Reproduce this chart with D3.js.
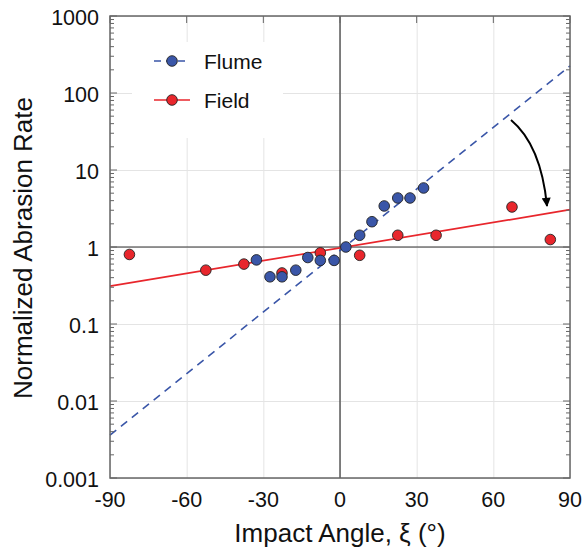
<!DOCTYPE html>
<html>
<head>
<meta charset="utf-8">
<script src="https://cdn.jsdelivr.net/npm/d3@7"></script>
<style>
  body { margin: 0; background: #fff; }
  text { font-family: Arial, "Liberation Sans", sans-serif; fill: #111; }
</style>
</head>
<body>
<svg id="chart" width="585" height="550"></svg>
<script>
// --- Data ---
const flumeAngle = [-32.7, -27.4, -22.7, -17.3, -12.6, -7.7, -2.3, 2.3, 7.7, 12.5, 17.3, 22.6, 27.4, 32.7];
const flumeRate  = [0.68, 0.41, 0.41, 0.50, 0.73, 0.67, 0.67, 1.0, 1.42, 2.13, 3.41, 4.33, 4.33, 5.84];
const fieldAngle = [-82.4, -52.5, -37.6, -22.7, -7.7, 7.7, 22.6, 37.6, 67.3, 82.3];
const fieldRate  = [0.80, 0.50, 0.60, 0.46, 0.84, 0.78, 1.42, 1.42, 3.31, 1.25];
// fitted trend lines (end points)
const fitAngle = [-90, 90];
const flumeFit = [0.0036, 225];
const fieldFit = [0.31, 3.05];
const xTicks = [-90, -60, -30, 0, 30, 60, 90];
const yTicks = [0.001, 0.01, 0.1, 1, 10, 100, 1000];

const svg = d3.select("#chart");
const margin = { top: 16, right: 15, bottom: 72, left: 110 };
const innerWidth = 585 - margin.left - margin.right;
const innerHeight = 550 - margin.top - margin.bottom;
const g = svg.append("g").attr("transform", `translate(${margin.left},${margin.top})`);

// --- Scales ---
const x = d3.scaleLinear().domain([-90, 90]).range([0, innerWidth]);
const y = d3.scaleLog().domain([0.001, 1000]).range([innerHeight, 0]);

const blue = "#3a56a8", red = "#e8262c";

// --- Gridlines ---
g.append("g")
  .call(d3.axisBottom(x).tickValues(xTicks).tickSize(innerHeight).tickFormat(""))
  .call(a => a.select(".domain").remove())
  .call(a => a.selectAll("text").remove())
  .selectAll("line").attr("stroke", "#e4e4e4");
g.append("g")
  .call(d3.axisLeft(y).tickValues(yTicks).tickSize(-innerWidth).tickFormat(""))
  .call(a => a.select(".domain").remove())
  .call(a => a.selectAll("text").remove())
  .selectAll("line").attr("stroke", "#e4e4e4");

// --- Zero lines ---
g.append("line").attr("x1", x(0)).attr("x2", x(0)).attr("y1", 0).attr("y2", innerHeight)
  .attr("stroke", "#333").attr("stroke-width", 1.2);
g.append("line").attr("x1", 0).attr("x2", innerWidth).attr("y1", y(1)).attr("y2", y(1))
  .attr("stroke", "#333").attr("stroke-width", 1.2);

// --- Legend box (white, covers grid) ---
g.append("rect").attr("x", 22).attr("y", 26).attr("width", 151).attr("height", 96).attr("fill", "#fff");

// --- Fit lines ---
const fitLine = vals => d3.line().x((d, i) => x(fitAngle[i])).y((d, i) => y(vals[i]))(vals);
g.append("path").attr("d", fitLine(fieldFit)).attr("fill", "none")
  .attr("stroke", red).attr("stroke-width", 1.7);
g.append("path").attr("d", fitLine(flumeFit)).attr("fill", "none")
  .attr("stroke", blue).attr("stroke-width", 1.6).attr("stroke-dasharray", "8,6");

// --- Points ---
g.selectAll(".field").data(fieldAngle).join("circle")
  .attr("cx", d => x(d)).attr("cy", (d, i) => y(fieldRate[i])).attr("r", 5.3)
  .attr("fill", red).attr("stroke", "#222").attr("stroke-width", 0.9);
g.selectAll(".flume").data(flumeAngle).join("circle")
  .attr("cx", d => x(d)).attr("cy", (d, i) => y(flumeRate[i])).attr("r", 5.3)
  .attr("fill", blue).attr("stroke", "#222").attr("stroke-width", 0.9);

// --- Frame and ticks ---
g.append("rect").attr("width", innerWidth).attr("height", innerHeight)
  .attr("fill", "none").attr("stroke", "#666").attr("stroke-width", 1.5);

const minor = [];
yTicks.slice(0, -1).forEach(t => { for (let k = 2; k <= 9; k++) minor.push(t * k); });
[0, innerWidth].forEach(px => {
  const dir = px === 0 ? 1 : -1;
  g.selectAll(null).data(minor).join("line")
    .attr("x1", px).attr("x2", px + dir * 4).attr("y1", d => y(d)).attr("y2", d => y(d))
    .attr("stroke", "#666");
  g.selectAll(null).data(yTicks).join("line")
    .attr("x1", px).attr("x2", px + dir * 7).attr("y1", d => y(d)).attr("y2", d => y(d))
    .attr("stroke", "#666");
});
g.selectAll(null).data(xTicks).join("line")
  .attr("x1", d => x(d)).attr("x2", d => x(d)).attr("y1", 0).attr("y2", 7)
  .attr("stroke", "#666");

// --- Tick labels ---
g.selectAll(".ylab").data(yTicks).join("text")
  .attr("x", -11).attr("y", d => y(d) + 9)
  .attr("text-anchor", "end").attr("font-size", 21.5).text(d => d3.format("~g")(d));
g.selectAll(".xlab").data(xTicks).join("text")
  .attr("x", d => x(d)).attr("y", innerHeight + 29)
  .attr("text-anchor", "middle").attr("font-size", 21.5).text(d => d);

// --- Axis titles ---
svg.append("text").attr("x", margin.left + innerWidth / 2).attr("y", 542)
  .attr("text-anchor", "middle").attr("font-size", 26).text("Impact Angle, ξ (°)");
svg.append("text").attr("transform", "rotate(-90)")
  .attr("x", -248).attr("y", 32)
  .attr("text-anchor", "middle").attr("font-size", 26).text("Normalized Abrasion Rate");

// --- Arrow ---
svg.append("defs").append("marker").attr("id", "ah")
  .attr("viewBox", "0 0 10 10").attr("refX", 9).attr("refY", 5)
  .attr("markerUnits", "userSpaceOnUse")
  .attr("markerWidth", 10).attr("markerHeight", 9).attr("orient", "auto")
  .append("path").attr("d", "M0,0L10,5L0,10Z").attr("fill", "#000");
svg.append("path").attr("d", "M511,120 Q541,145 547,206").attr("fill", "none")
  .attr("stroke", "#000").attr("stroke-width", 2).attr("marker-end", "url(#ah)");

// --- Legend ---
const legend = [
  { name: "Flume", color: blue, dash: "7,5", yy: 61 },
  { name: "Field", color: red, dash: null, yy: 100 }
];
const lg = svg.selectAll(".leg").data(legend).join("g")
  .attr("transform", d => `translate(0,${d.yy})`);
lg.append("line").attr("x1", 154).attr("x2", 190).attr("stroke", d => d.color)
  .attr("stroke-width", 1.6).attr("stroke-dasharray", d => d.dash);
lg.append("circle").attr("cx", 172).attr("r", 5.3).attr("fill", d => d.color)
  .attr("stroke", "#222").attr("stroke-width", 0.9);
lg.append("text").attr("x", 204).attr("y", 7.5).attr("font-size", 21).text(d => d.name);
</script>
</body>
</html>
